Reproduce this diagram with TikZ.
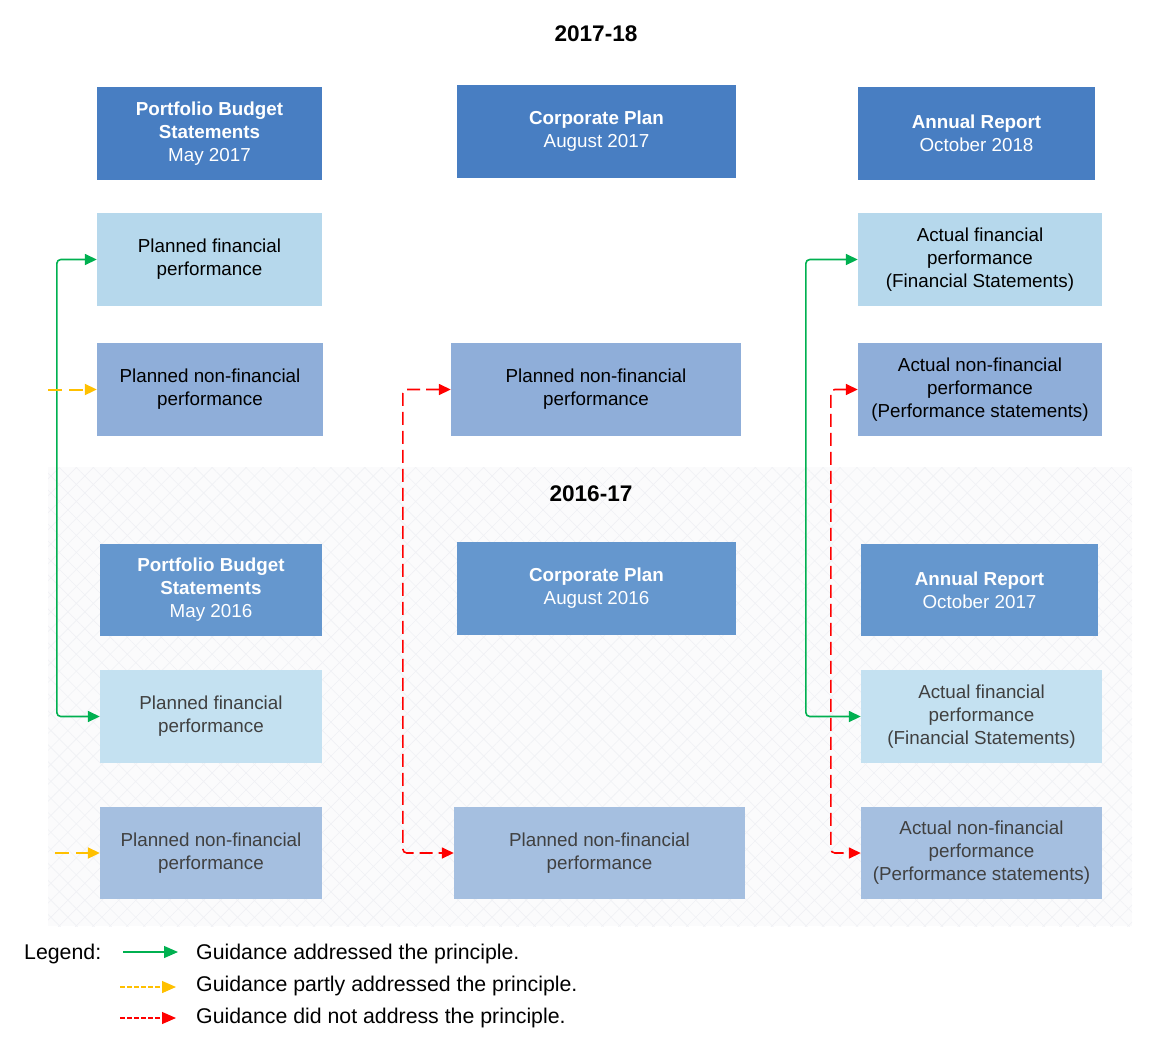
\documentclass[tikz,border=0pt]{standalone}
\usepackage{fontspec}
\setmainfont{Liberation Sans}
\usetikzlibrary{arrows.meta,patterns.meta}
\definecolor{dkA}{RGB}{72,126,194}
\definecolor{ltA}{RGB}{182,216,236}
\definecolor{mdA}{RGB}{143,174,217}
\definecolor{dkB}{RGB}{101,151,206}
\definecolor{ltB}{RGB}{196,225,241}
\definecolor{mdB}{RGB}{165,191,224}
\definecolor{grn}{RGB}{0,176,80}
\definecolor{ylw}{RGB}{255,192,0}
\definecolor{rd}{RGB}{255,0,0}
\definecolor{txtB}{RGB}{64,64,64}
\definecolor{patc}{RGB}{240,241,245}
\definecolor{bgc}{RGB}{251,251,252}
\tikzset{
  box/.style={inner sep=0pt, align=center, font=\fontsize{18.8}{23}\selectfont},
  hdr/.style={box, fill=dkA, text=white},
  hdrB/.style={box, fill=dkB, text=white},
  fin/.style={box, fill=ltA, text=black},
  finB/.style={box, fill=ltB, text=txtB},
  nfin/.style={box, fill=mdA, text=black},
  nfinB/.style={box, fill=mdB, text=txtB},
  ttl/.style={font=\fontsize{22.6}{26}\selectfont\bfseries},
  lgd/.style={anchor=west, inner sep=0pt, font=\fontsize{21.3}{25}\selectfont},
  mytip/.tip={Triangle[length=12pt,width=11pt]},
  ltip/.tip={Triangle[length=14pt,width=12pt]},
  okarr/.style={draw=grn, line width=1.6pt, rounded corners=4pt, mytip-mytip},
  partarr/.style={draw=ylw, line width=2pt, dash pattern=on 14pt off 7pt, -mytip},
  noarr/.style={draw=rd, line width=1.6pt, dash pattern=on 13pt off 6pt, rounded corners=4pt, mytip-mytip},
}
\begin{document}
\begin{tikzpicture}[x=1pt,y=-1pt]
\useasboundingbox (0,0) rectangle (1156,1053);
% faint patterned background of the 2016-17 half
\fill[bgc] (48,467) rectangle (1132,926);
\fill[pattern={Lines[angle=45,distance=12pt,line width=0.6pt]}, pattern color=patc] (48,467) rectangle (1132,926);
\fill[pattern={Lines[angle=-45,distance=12pt,line width=0.6pt]}, pattern color=patc] (48,467) rectangle (1132,926);

\node[ttl] (t17) at (596,34) {2017-18};
\node[ttl] (t16) at (591,494) {2016-17};

% 2017-18
\node[hdr, minimum width=225pt, minimum height=93pt] (pbs17) at (209.5,133.5) {\textbf{Portfolio Budget}\\\textbf{Statements}\\May 2017};
\node[hdr, minimum width=279pt, minimum height=93pt] (cp17) at (596.5,131.5) {\textbf{Corporate Plan}\\August 2017};
\node[hdr, minimum width=237pt, minimum height=93pt] (ar18) at (976.5,133.5) {\textbf{Annual Report}\\October 2018};
\node[fin, minimum width=225pt, minimum height=93pt] (pf17) at (209.5,259.5) {Planned financial\\performance};
\node[nfin, minimum width=226pt, minimum height=93pt] (pnf17) at (210,389.5) {Planned non-financial\\performance};
\node[nfin, minimum width=290pt, minimum height=93pt] (cpnf17) at (596,389.5) {Planned non-financial\\performance};
\node[fin, minimum width=244pt, minimum height=93pt] (af18) at (980,259.5) {Actual financial\\performance\\(Financial Statements)};
\node[nfin, minimum width=244pt, minimum height=93pt] (anf18) at (980,389.5) {Actual non-financial\\performance\\(Performance statements)};

% 2016-17
\node[hdrB, minimum width=222pt, minimum height=92pt] (pbs16) at (211,590) {\textbf{Portfolio Budget}\\\textbf{Statements}\\May 2016};
\node[hdrB, minimum width=279pt, minimum height=93pt] (cp16) at (596.5,588.5) {\textbf{Corporate Plan}\\August 2016};
\node[hdrB, minimum width=237pt, minimum height=92pt] (ar17) at (979.5,590) {\textbf{Annual Report}\\October 2017};
\node[finB, minimum width=222pt, minimum height=93pt] (pf16) at (211,716.5) {Planned financial\\performance};
\node[nfinB, minimum width=222pt, minimum height=92pt] (pnf16) at (211,853) {Planned non-financial\\performance};
\node[nfinB, minimum width=291pt, minimum height=92pt] (cpnf16) at (599.5,853) {Planned non-financial\\performance};
\node[finB, minimum width=241pt, minimum height=93pt] (af17) at (981.5,716.5) {Actual financial\\performance\\(Financial Statements)};
\node[nfinB, minimum width=241pt, minimum height=92pt] (anf17) at (981.5,853) {Actual non-financial\\performance\\(Performance statements)};

% connectors
\draw[okarr] (pf17.west) -- ++(-40,0) |- (pf16.west);
\coordinate (y17) at (48,389.5);
\coordinate (y16) at (55,853);
\draw[partarr] (y17) -- (pnf17.west);
\draw[partarr] (y16) -- (pnf16.west);
\draw[noarr] (cpnf17.west) -- ++(-48,0) |- (cpnf16.west);
\draw[okarr] (af18.west) -- ++(-52,0) |- (af17.west);
\draw[noarr] (anf18.west) -- ++(-27,0) |- (anf17.west);

% legend
\node[lgd] (lg) at (24,954) {Legend:};
\coordinate (la1) at (123,952); \coordinate (lb1) at (178,952);
\coordinate (la2) at (120,987); \coordinate (lb2) at (176,987);
\coordinate (la3) at (120,1018); \coordinate (lb3) at (176,1018);
\draw[draw=grn, line width=1.2pt, -ltip] (la1) -- (lb1);
\draw[draw=ylw, line width=1.3pt, dash pattern=on 4.5pt off 2.5pt, -ltip] (la2) -- (lb2);
\draw[draw=rd, line width=1.2pt, dash pattern=on 4.5pt off 2.5pt, -ltip] (la3) -- (lb3);
\node[lgd] (l1) at (196,954) {Guidance addressed the principle.};
\node[lgd] (l2) at (196,986) {Guidance partly addressed the principle.};
\node[lgd] (l3) at (196,1018) {Guidance did not address the principle.};
\end{tikzpicture}
\end{document}
